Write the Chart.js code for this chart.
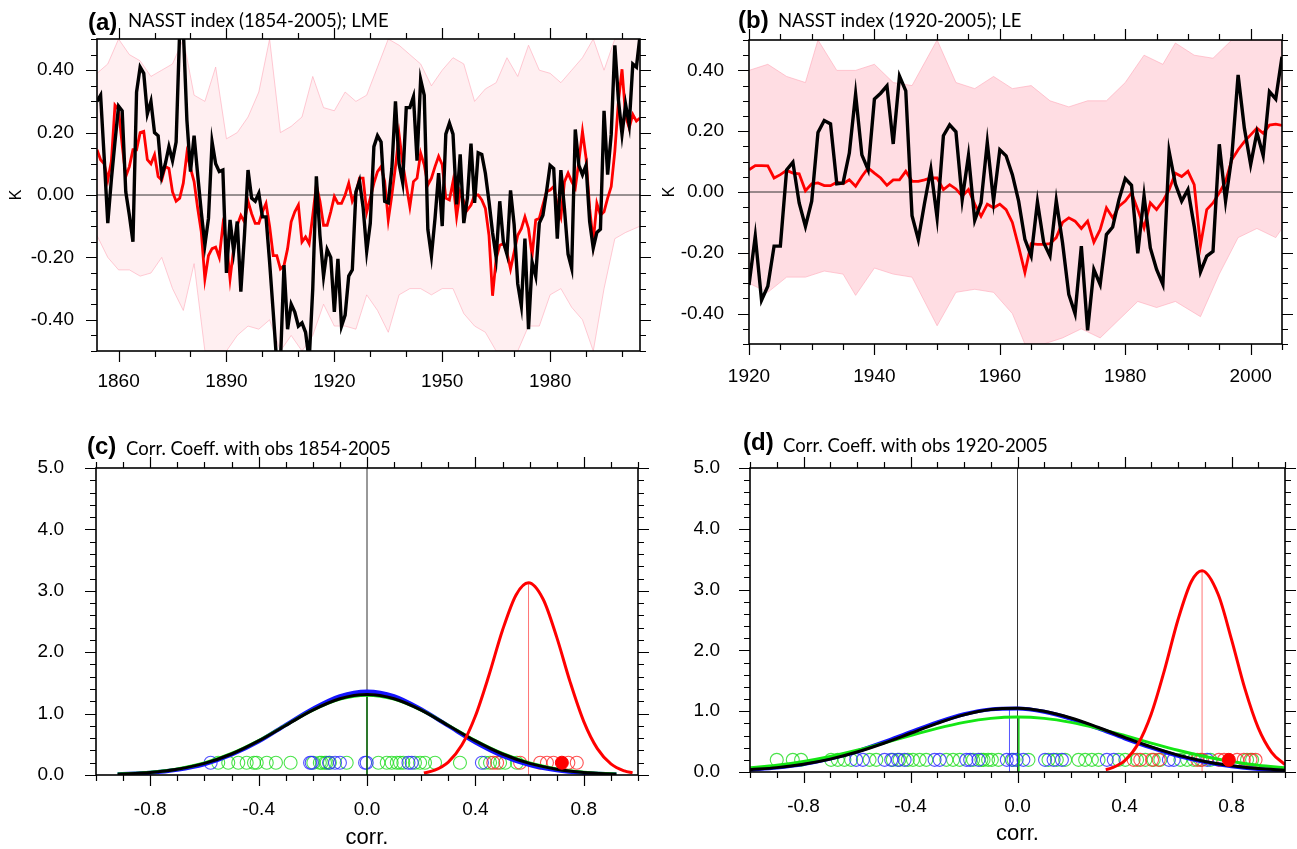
<!DOCTYPE html>
<html>
<head>
<meta charset="utf-8">
<title>NASST index and correlation with observations</title>
<script src="https://cdn.jsdelivr.net/npm/chart.js@4.4.1/dist/chart.umd.min.js"></script>
<style>
  html, body { margin: 0; padding: 0; background: #fff; }
  #wrap { position: relative; width: 1297px; height: 849px; overflow: hidden; }
  #wrap canvas { position: absolute; }
</style>
</head>
<body>
<div id="wrap">
  <canvas id="panelA" width="655" height="400" style="left:0;top:0"></canvas>
  <canvas id="panelB" width="642" height="400" style="left:655px;top:0"></canvas>
  <canvas id="panelC" width="655" height="429" style="left:0;top:420px"></canvas>
  <canvas id="panelD" width="642" height="429" style="left:655px;top:420px"></canvas>
</div>
<script>
// ---- (a) NASST index 1854-2005, LME ----
const startA = 1854;
const endA = 2005;
const blackA = [
  0.30, 0.32, 0.12, -0.09, 0.05, 0.17, 0.285, 0.27, 0.01, -0.065,
  -0.15, 0.33, 0.41, 0.39, 0.26, 0.30, 0.20, 0.19, 0.06, 0.10,
  0.155, 0.11, 0.17, 0.53, 0.53, 0.24, 0.075, 0.19, 0.065, -0.055,
  -0.16, -0.075, 0.17, 0.10, 0.075, 0.08, -0.25, -0.08, -0.18, -0.085,
  -0.31, -0.13, 0.08, -0.01, -0.02, 0.005, -0.07, -0.07, -0.215, -0.375,
  -0.54, -0.54, -0.225, -0.43, -0.35, -0.375, -0.42, -0.41, -0.44, -0.53,
  -0.30, 0.06, -0.13, -0.26, -0.175, -0.20, -0.375, -0.205, -0.42, -0.385,
  -0.26, -0.24, 0.01, 0.045, -0.04, -0.18, -0.09, 0.155, 0.19, 0.17,
  -0.02, -0.025, 0.085, 0.30, 0.10, 0.04, 0.28, 0.28, 0.315, 0.11,
  0.37, 0.32, -0.11, -0.195, -0.075, 0.07, -0.10, 0.195, 0.23, 0.195,
  -0.03, 0.13, -0.09, -0.01, 0.165, -0.025, 0.135, 0.13, 0.07, -0.02,
  -0.12, -0.20, -0.02, -0.15, -0.19, 0.015, -0.095, -0.285, -0.355, -0.14,
  -0.43, -0.215, -0.26, -0.09, -0.065, 0.01, 0.095, 0.085, -0.14, 0.08,
  -0.045, -0.19, -0.235, 0.21, 0.095, 0.065, 0.095, -0.085, -0.17, -0.12,
  -0.11, 0.27, 0.065, 0.195, 0.48, 0.305, 0.195, 0.29, 0.225, 0.42,
  0.41, 0.51
];
const redA = [
  0.145, 0.113, 0.10, 0.048, 0.108, 0.288, 0.274, 0.161, 0.059, 0.091,
  0.145, 0.145, 0.20, 0.204, 0.113, 0.10, 0.129, 0.059, 0.048, 0.091,
  0.085, 0.01, -0.02, -0.01, 0.038, 0.134, 0.086, 0.043, -0.043, -0.118,
  -0.269, -0.194, -0.172, -0.167, -0.20, -0.097, -0.15, -0.269, -0.172, -0.097,
  -0.065, -0.086, -0.02, -0.06, -0.091, -0.091, -0.054, -0.027, -0.10, -0.194,
  -0.194, -0.237, -0.226, -0.172, -0.086, -0.054, -0.032, -0.15, -0.134, -0.156,
  -0.065, 0.032, -0.02, -0.097, -0.097, -0.054, -0.005, -0.027, -0.027, 0.0,
  0.038, -0.02, 0.005, 0.054, 0.054, -0.055, -0.01, 0.038, 0.075, 0.091,
  0.043, -0.08, 0.0, 0.091, 0.194, 0.102, 0.032, -0.038, 0.043, 0.054,
  0.134, 0.097, 0.032, 0.054, 0.091, 0.124, 0.097, -0.01, -0.016, 0.043,
  -0.07, 0.01, -0.02, -0.048, -0.032, 0.0, 0.0, -0.016, -0.043, -0.129,
  -0.323, -0.204, -0.161, -0.156, -0.183, -0.237, -0.183, -0.129, -0.108, -0.07,
  -0.108, -0.194, -0.08, -0.075, -0.032, 0.01, 0.016, 0.027, -0.032, -0.07,
  0.043, 0.07, 0.043, 0.022, 0.108, 0.204, 0.118, -0.043, -0.15, -0.027,
  -0.065, -0.054, -0.01, 0.027, 0.14, 0.30, 0.403, 0.253, 0.215, 0.258,
  0.237, 0.247
];
// spread of the ensemble members (pink), read as upper / lower reach
const pinkYearsA = [1854, 1857, 1860, 1863, 1866, 1869, 1872, 1875, 1878, 1881, 1884, 1887, 1890,
  1893, 1896, 1899, 1902, 1905, 1908, 1911, 1914, 1917, 1920, 1923, 1926, 1929, 1932, 1935, 1938,
  1941, 1944, 1947, 1950, 1953, 1956, 1959, 1962, 1965, 1968, 1971, 1974, 1977, 1980, 1983, 1986,
  1989, 1992, 1995, 1998, 2001, 2005];
const pinkHighA = [0.39, 0.42, 0.50, 0.45, 0.43, 0.38, 0.40, 0.42, 0.50, 0.32, 0.30, 0.41, 0.18,
  0.20, 0.25, 0.33, 0.50, 0.20, 0.22, 0.25, 0.38, 0.28, 0.27, 0.33, 0.30, 0.32, 0.41, 0.50, 0.48,
  0.45, 0.42, 0.35, 0.40, 0.44, 0.42, 0.30, 0.34, 0.36, 0.44, 0.38, 0.48, 0.40, 0.39, 0.36, 0.40,
  0.44, 0.50, 0.40, 0.50, 0.50, 0.50];
const pinkLowA = [-0.13, -0.20, -0.24, -0.24, -0.26, -0.25, -0.20, -0.30, -0.37, -0.22, -0.50, -0.50, -0.50,
  -0.45, -0.42, -0.43, -0.40, -0.50, -0.45, -0.50, -0.45, -0.35, -0.42, -0.42, -0.43, -0.32, -0.37, -0.44, -0.32,
  -0.30, -0.30, -0.32, -0.30, -0.30, -0.38, -0.42, -0.44, -0.50, -0.50, -0.50, -0.42, -0.42, -0.32, -0.30, -0.36,
  -0.40, -0.50, -0.30, -0.14, -0.12, -0.10];

// ---- (b) NASST index 1920-2005, LE ----
const startB = 1920;
const endB = 2005;
const blackB = [
  -0.306, -0.145, -0.356, -0.31, -0.178, -0.178, 0.073, 0.098, -0.036, -0.113,
  -0.03, 0.196, 0.235, 0.224, 0.027, 0.03, 0.128, 0.322, 0.122, 0.073,
  0.306, 0.325, 0.349, 0.158, 0.381, 0.333, -0.078, -0.156, -0.036, 0.075,
  -0.085, 0.185, 0.221, 0.198, -0.025, 0.12, -0.093, -0.036, 0.163, -0.03,
  0.139, 0.119, 0.057, -0.03, -0.156, -0.21, -0.033, -0.167, -0.21, -0.028,
  -0.167, -0.337, -0.40, -0.178, -0.455, -0.255, -0.304, -0.14, -0.115, -0.025,
  0.044, 0.022, -0.202, -0.012, -0.184, -0.255, -0.304, 0.133, 0.026, -0.03,
  0.008, -0.113, -0.263, -0.211, -0.195, 0.157, -0.03, 0.117, 0.385, 0.21,
  0.09, 0.196, 0.12, 0.33, 0.306, 0.445
];
const redB = [
  0.073, 0.087, 0.087, 0.086, 0.046, 0.057, 0.071, 0.062, 0.06, 0.004,
  0.027, 0.03, 0.021, 0.021, 0.032, 0.027, 0.04, 0.019, 0.051, 0.079,
  0.062, 0.046, 0.022, 0.04, 0.04, 0.068, 0.035, 0.035, 0.04, 0.046,
  0.046, 0.008, 0.024, 0.01, -0.014, 0.008, -0.04, -0.08, -0.04, -0.052,
  -0.04, -0.058, -0.10, -0.18, -0.265, -0.17, -0.172, -0.172, -0.17, -0.15,
  -0.10, -0.085, -0.096, -0.12, -0.096, -0.165, -0.124, -0.052, -0.085, -0.047,
  -0.03, -0.003, -0.058, -0.118, -0.036, -0.058, -0.03, 0.008, 0.062, 0.051,
  0.068, 0.024, -0.176, -0.058, -0.036, -0.003, 0.035, 0.106, 0.139, 0.166,
  0.188, 0.21, 0.193, 0.22, 0.223, 0.219
];
const pinkYearsHighB = [1920, 1923, 1926, 1929, 1931, 1934, 1937, 1940, 1943, 1946, 1950, 1953, 1956,
  1959, 1962, 1965, 1968, 1971, 1974, 1977, 1980, 1983, 1986, 1988, 1991, 1994, 1997, 2000, 2005];
const pinkHighB = [0.40, 0.42, 0.38, 0.36, 0.50, 0.40, 0.40, 0.42, 0.36, 0.35, 0.50, 0.36, 0.34,
  0.38, 0.34, 0.35, 0.30, 0.28, 0.30, 0.30, 0.36, 0.45, 0.42, 0.49, 0.45, 0.44, 0.50, 0.50, 0.50];
const pinkYearsLowB = [1920, 1923, 1926, 1929, 1932, 1935, 1937, 1940, 1943, 1946, 1950, 1953, 1956,
  1959, 1962, 1964, 1967, 1970, 1973, 1976, 1979, 1982, 1985, 1988, 1992, 1995, 1998, 2001, 2004, 2005];
const pinkLowB = [-0.30, -0.33, -0.28, -0.28, -0.26, -0.27, -0.34, -0.25, -0.27, -0.28, -0.44, -0.33, -0.32,
  -0.33, -0.40, -0.50, -0.50, -0.48, -0.45, -0.48, -0.42, -0.36, -0.38, -0.36, -0.41, -0.27, -0.15, -0.12, -0.15, -0.12];

// ---- (c) correlation with obs 1854-2005 ----
const corrC = [-0.92, -0.8, -0.7, -0.6, -0.5, -0.4, -0.3, -0.2, -0.1, 0, 0.1, 0.2, 0.3, 0.4, 0.5, 0.6, 0.7, 0.8, 0.92];
const blackPdfC = [0.014, 0.042, 0.094, 0.189, 0.342, 0.555, 0.807, 1.057, 1.242, 1.31, 1.242, 1.057, 0.807, 0.555, 0.342, 0.189, 0.094, 0.042, 0.014];
const bluePdfC = [0.012, 0.036, 0.085, 0.175, 0.33, 0.545, 0.815, 1.08, 1.285, 1.36, 1.285, 1.07, 0.8, 0.53, 0.31, 0.16, 0.075, 0.032, 0.011];
const greenPdfC = [0.015, 0.044, 0.098, 0.195, 0.35, 0.56, 0.81, 1.055, 1.235, 1.30, 1.235, 1.055, 0.81, 0.56, 0.35, 0.195, 0.098, 0.044, 0.015];
const redCorrC = [0.21, 0.25, 0.30, 0.35, 0.40, 0.45, 0.50, 0.55, 0.596, 0.65, 0.70, 0.75, 0.80, 0.85, 0.90, 0.95, 0.98];
const redPdfC = [0.032, 0.079, 0.211, 0.487, 0.961, 1.624, 2.357, 2.933, 3.13, 2.862, 2.245, 1.509, 0.870, 0.430, 0.182, 0.066, 0.034];
const greenCirclesC = [-0.549, -0.512, -0.475, -0.444, -0.417, -0.407, -0.370, -0.336, -0.282, -0.198, -0.174,
  -0.167, -0.155, -0.149, -0.137, -0.075, 0.042, 0.073, 0.091, 0.11, 0.122, 0.134, 0.177, 0.196, 0.214, 0.251,
  0.343, 0.436, 0.454, 0.491, 0.51, 0.553];
const blueCirclesC = [-0.577, -0.21, -0.204, -0.14, -0.118, -0.10, -0.007, -0.001, 0.153, 0.165, 0.424];
const redCirclesC = [0.466, 0.48, 0.565, 0.639, 0.664, 0.688, 0.743, 0.774];
const obsDotC = 0.719;
const redMeanC = [0.596, 3.13];
const greenMeanC = [0.0, 1.30];

// ---- (d) correlation with obs 1920-2005 ----
const corrD = [-1.0, -0.9, -0.8, -0.7, -0.6, -0.5, -0.4, -0.3, -0.2, -0.1, 0, 0.1, 0.2, 0.3, 0.4, 0.5, 0.6, 0.7, 0.8, 0.9, 1.0];
const blackPdfD = [0.038, 0.072, 0.128, 0.212, 0.328, 0.473, 0.637, 0.80, 0.939, 1.027, 1.048, 0.999, 0.888, 0.736, 0.570, 0.412, 0.277, 0.174, 0.102, 0.056, 0.029];
const bluePdfD = [0.038, 0.073, 0.13, 0.22, 0.34, 0.49, 0.655, 0.815, 0.95, 1.03, 1.045, 0.99, 0.875, 0.72, 0.555, 0.40, 0.265, 0.165, 0.095, 0.05, 0.026];
const greenPdfD = [0.068, 0.112, 0.173, 0.255, 0.357, 0.475, 0.600, 0.717, 0.816, 0.882, 0.905, 0.882, 0.816, 0.717, 0.600, 0.475, 0.357, 0.255, 0.173, 0.112, 0.068];
const redCorrD = [0.33, 0.35, 0.40, 0.45, 0.50, 0.55, 0.60, 0.65, 0.69, 0.75, 0.80, 0.85, 0.90, 0.95, 1.0];
const redPdfD = [0.038, 0.062, 0.183, 0.455, 0.955, 1.685, 2.504, 3.133, 3.31, 2.924, 2.182, 1.371, 0.725, 0.323, 0.121];
const greenCirclesD = [-0.90, -0.84, -0.809, -0.697, -0.672, -0.647, -0.622, -0.553, -0.528, -0.466, -0.441, -0.41,
  -0.391, -0.366, -0.341, -0.266, -0.241, -0.216, -0.166, -0.135, -0.127, -0.11, -0.096, -0.071, -0.015, 0.041,
  0.116, 0.147, 0.178, 0.228, 0.253, 0.278, 0.303, 0.378, 0.403, 0.447, 0.478, 0.509, 0.534, 0.609, 0.634, 0.659,
  0.684, 0.721, 0.858, 0.877];
const blueCirclesD = [-0.603, -0.578, -0.497, -0.472, -0.447, -0.422, -0.31, -0.291, -0.191, -0.177, -0.146, -0.04,
  -0.021, -0.003, 0.022, 0.103, 0.135, 0.166, 0.334, 0.36, 0.566, 0.584, 0.709];
const redCirclesD = [0.434, 0.459, 0.503, 0.528, 0.672, 0.69, 0.753, 0.772, 0.821, 0.846, 0.871, 0.89];
const obsDotD = 0.79;
const redMeanD = [0.69, 3.31];
const blueMeanD = [-0.03, 1.045];
const greenMeanD = [0.005, 0.905];

const circleLevel = 0.2;

// tick labels
const kTicks = [-0.4, -0.2, 0, 0.2, 0.4];
const yearTicksA = [1860, 1890, 1920, 1950, 1980];
const yearTicksB = [1920, 1940, 1960, 1980, 2000];
const corrTicks = [-0.8, -0.4, 0, 0.4, 0.8];
const pdfTicks = [0, 1, 2, 3, 4, 5];

function toPoints(xs, ys) {
  return xs.map((x, i) => ({ x: x, y: ys[i] }));
}
function yearPoints(start, ys) {
  return ys.map((y, i) => ({ x: start + i, y: y }));
}

const tickFont = { family: '"Liberation Sans", Arial, sans-serif', size: 19 };

// frame, outward major/minor ticks on all four sides, panel titles
const panelDecor = {
  id: 'panelDecor',
  afterDraw(chart, args, o) {
    const ctx = chart.ctx;
    const a = chart.chartArea;
    const xs = chart.scales.x;
    const ys = chart.scales.y;
    const isMajor = (list, v) => list.some(m => Math.abs(m - v) < 1e-6);
    ctx.save();
    ctx.strokeStyle = '#000';
    ctx.lineWidth = 1.2;
    ctx.beginPath();
    for (let i = 0; ; i++) {
      const v = o.xFrom + i * o.xStep;
      if (v > xs.max + 1e-6) break;
      const px = Math.round(xs.getPixelForValue(v)) + 0.5;
      const len = isMajor(o.xMajor, v) ? 11 : 6;
      ctx.moveTo(px, a.bottom); ctx.lineTo(px, a.bottom + len);
      ctx.moveTo(px, a.top); ctx.lineTo(px, a.top - len);
    }
    for (let i = 0; ; i++) {
      const v = o.yFrom + i * o.yStep;
      if (v > ys.max + 1e-6) break;
      const py = Math.round(ys.getPixelForValue(v)) + 0.5;
      const len = isMajor(o.yMajor, v) ? 11 : 6;
      ctx.moveTo(a.left, py); ctx.lineTo(a.left - len, py);
      ctx.moveTo(a.right, py); ctx.lineTo(a.right + len, py);
    }
    ctx.stroke();
    ctx.lineWidth = 1.6;
    ctx.strokeRect(a.left, a.top, a.right - a.left, a.bottom - a.top);

    ctx.fillStyle = '#000';
    ctx.textAlign = 'left';
    ctx.textBaseline = 'alphabetic';
    ctx.font = 'bold 24px "Liberation Sans", Arial, sans-serif';
    ctx.fillText(o.tag, o.tagX, o.tagY);
    ctx.font = '18.5px Lato, "Noto Sans", sans-serif';
    ctx.fillText(o.title, o.titleX, o.titleY);
    if (o.yTitle) {
      ctx.save();
      ctx.translate(o.yTitleX, (a.top + a.bottom) / 2);
      ctx.rotate(-Math.PI / 2);
      ctx.textAlign = 'center';
      ctx.textBaseline = 'middle';
      ctx.font = '16px "Liberation Sans", Arial, sans-serif';
      ctx.fillText(o.yTitle, 0, 0);
      ctx.restore();
    }
    if (o.xTitle) {
      ctx.textAlign = 'center';
      ctx.textBaseline = 'middle';
      ctx.font = '22px "Liberation Sans", Arial, sans-serif';
      ctx.fillText(o.xTitle, (a.left + a.right) / 2, a.bottom + o.xTitleGap);
    }
    ctx.restore();
  }
};

function baseScales(p) {
  return {
    x: {
      type: 'linear', min: p.xMin, max: p.xMax,
      grid: { display: false }, border: { display: false },
      afterBuildTicks: s => { s.ticks = p.xTicks.map(v => ({ value: v })); },
      afterFit: s => { s.height = p.xH; },
      ticks: { padding: p.xPad, color: '#000', font: tickFont, autoSkip: false, maxRotation: 0, callback: p.xFmt }
    },
    y: {
      type: 'linear', min: p.yMin, max: p.yMax,
      grid: { display: false }, border: { display: false },
      afterBuildTicks: s => { s.ticks = p.yTicks.map(v => ({ value: v })); },
      afterFit: s => { s.width = p.yW; },
      ticks: { padding: p.yPad, color: '#000', font: tickFont, autoSkip: false, callback: p.yFmt }
    }
  };
}

function baseOptions(p, decor) {
  return {
    responsive: false,
    animation: false,
    events: [],
    layout: { padding: p.pad },
    elements: { point: { radius: 0 }, line: { tension: 0 } },
    datasets: { line: { clip: 0 } },
    plugins: { legend: { display: false }, tooltip: { enabled: false }, panelDecor: decor },
    scales: baseScales(p)
  };
}

function seriesChart(id, p, decor) {
  const pinkEdge = 'rgba(255, 160, 178, 0.55)';
  const datasets = [
    { data: yearPoints(p.start, p.black), borderColor: '#000000', borderWidth: 3.4 },
    { data: yearPoints(p.start, p.red), borderColor: '#ff0000', borderWidth: 2.8 },
    { data: toPoints([p.start, p.end], [0, 0]), borderColor: '#333333', borderWidth: 1 },
    { data: toPoints(p.highYears, p.high), borderColor: pinkEdge, borderWidth: 1, fill: '+1', backgroundColor: p.pinkFill },
    { data: toPoints(p.lowYears, p.low), borderColor: pinkEdge, borderWidth: 1 }
  ];
  return new Chart(document.getElementById(id), { type: 'line', data: { datasets: datasets }, options: baseOptions(p, decor), plugins: [panelDecor] });
}

function circles(xs, color) {
  return {
    data: xs.map(x => ({ x: x, y: circleLevel })), showLine: false, pointStyle: 'circle',
    pointRadius: 6.5, pointBorderWidth: 1.1, pointBorderColor: color, pointBackgroundColor: 'rgba(0,0,0,0)'
  };
}
function meanLine(m, color, w) {
  return { data: toPoints([m[0], m[0]], [0, m[1]]), borderColor: color, borderWidth: w };
}

function corrChart(id, p, decor) {
  const datasets = [
    { data: [{ x: p.dot, y: circleLevel }], showLine: false, pointStyle: 'circle', pointRadius: 6.5, pointBorderWidth: 1, pointBorderColor: '#ff0000', pointBackgroundColor: '#ff0000' },
    { data: toPoints(p.redX, p.redY), borderColor: '#ff0000', borderWidth: 3, cubicInterpolationMode: 'monotone' },
    { data: toPoints(p.curveX, p.blackY), borderColor: '#000000', borderWidth: 3, cubicInterpolationMode: 'monotone' },
    { data: toPoints(p.curveX, p.greenY), borderColor: '#14e614', borderWidth: 3, cubicInterpolationMode: 'monotone' },
    { data: toPoints(p.curveX, p.blueY), borderColor: '#1414ff', borderWidth: 4, cubicInterpolationMode: 'monotone' }
  ];
  p.means.forEach(m => datasets.push(meanLine(m.v, m.color, m.w)));
  datasets.push(circles(p.redC, 'rgba(255, 40, 40, 0.8)'));
  datasets.push(circles(p.blueC, 'rgba(40, 40, 255, 0.8)'));
  datasets.push(circles(p.greenC, 'rgba(30, 220, 30, 0.8)'));
  datasets.push({ data: toPoints([0, 0], [0, 5]), borderColor: '#333333', borderWidth: 1 });
  return new Chart(document.getElementById(id), { type: 'line', data: { datasets: datasets }, options: baseOptions(p, decor), plugins: [panelDecor] });
}

const fmtYear = v => String(v);
const fmtK = v => v.toFixed(2);
const fmtOne = v => v.toFixed(1);

seriesChart('panelA', {
  start: startA, end: endA, black: blackA, red: redA,
  highYears: pinkYearsA, high: pinkHighA, lowYears: pinkYearsA, low: pinkLowA,
  pinkFill: 'rgba(255, 182, 193, 0.22)',
  xMin: startA, xMax: endA, yMin: -0.5, yMax: 0.5, xTicks: yearTicksA, yTicks: kTicks,
  xFmt: fmtYear, yFmt: fmtK, xH: 49, yW: 97, xPad: 11, yPad: 15,
  pad: { left: 0, top: 39, right: 15, bottom: 0 }
}, {
  tag: '(a)', tagX: 88, tagY: 30, title: 'NASST index (1854-2005); LME', titleX: 128, titleY: 27,
  yTitle: 'K', yTitleX: 17,
  xFrom: 1860, xStep: 10, xMajor: yearTicksA, yFrom: -0.5, yStep: 0.05, yMajor: kTicks
});

seriesChart('panelB', {
  start: startB, end: endB, black: blackB, red: redB,
  highYears: pinkYearsHighB, high: pinkHighB, lowYears: pinkYearsLowB, low: pinkLowB,
  pinkFill: 'rgba(255, 170, 186, 0.4)',
  xMin: startB, xMax: endB, yMin: -0.5, yMax: 0.5, xTicks: yearTicksB, yTicks: kTicks,
  xFmt: fmtYear, yFmt: fmtK, xH: 56, yW: 94, xPad: 13, yPad: 17,
  pad: { left: 0, top: 40, right: 15, bottom: 0 }
}, {
  tag: '(b)', tagX: 83, tagY: 28, title: 'NASST index (1920-2005); LE', titleX: 123, titleY: 27,
  yTitle: 'K', yTitleX: 15,
  xFrom: 1920, xStep: 5, xMajor: yearTicksB, yFrom: -0.5, yStep: 0.05, yMajor: kTicks
});

corrChart('panelC', {
  curveX: corrC, blackY: blackPdfC, blueY: bluePdfC, greenY: greenPdfC,
  redX: redCorrC, redY: redPdfC, dot: obsDotC,
  greenC: greenCirclesC, blueC: blueCirclesC, redC: redCirclesC,
  means: [
    { v: redMeanC, color: 'rgba(255, 60, 60, 0.7)', w: 1 },
    { v: greenMeanC, color: '#0a6e0a', w: 1.5 }
  ],
  xMin: -1, xMax: 1, yMin: 0, yMax: 5, xTicks: corrTicks, yTicks: pdfTicks,
  xFmt: fmtOne, yFmt: fmtOne, xH: 74, yW: 96, xPad: 15, yPad: 24,
  pad: { left: 0, top: 48, right: 17, bottom: 0 }
}, {
  tag: '(c)', tagX: 87, tagY: 34, title: 'Corr. Coeff. with obs 1854-2005', titleX: 126, titleY: 35,
  xTitle: 'corr.', xTitleGap: 63,
  xFrom: -1, xStep: 0.1, xMajor: corrTicks, yFrom: 0, yStep: 0.2, yMajor: pdfTicks
});

corrChart('panelD', {
  curveX: corrD, blackY: blackPdfD, blueY: bluePdfD, greenY: greenPdfD,
  redX: redCorrD, redY: redPdfD, dot: obsDotD,
  greenC: greenCirclesD, blueC: blueCirclesD, redC: redCirclesD,
  means: [
    { v: redMeanD, color: 'rgba(255, 60, 60, 0.7)', w: 1 },
    { v: blueMeanD, color: 'rgba(40, 40, 255, 0.8)', w: 1 },
    { v: greenMeanD, color: '#14c814', w: 1.5 }
  ],
  xMin: -1, xMax: 1, yMin: 0, yMax: 5, xTicks: corrTicks, yTicks: pdfTicks,
  xFmt: fmtOne, yFmt: fmtOne, xH: 77, yW: 95, xPad: 15, yPad: 22,
  pad: { left: 0, top: 48, right: 12, bottom: 0 }
}, {
  tag: '(d)', tagX: 88, tagY: 30, title: 'Corr. Coeff. with obs 1920-2005', titleX: 128, titleY: 32,
  xTitle: 'corr.', xTitleGap: 62,
  xFrom: -1, xStep: 0.1, xMajor: corrTicks, yFrom: 0, yStep: 0.2, yMajor: pdfTicks
});
</script>
</body>
</html>
